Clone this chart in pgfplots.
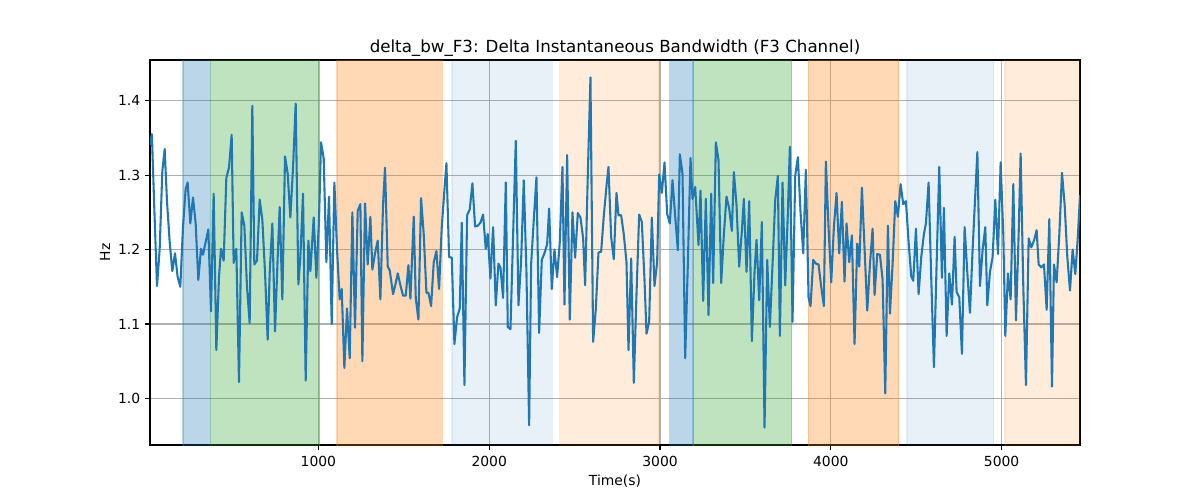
\documentclass[border=0pt]{standalone}
\usepackage{fontspec}
\setmainfont{DejaVu Sans}
\usepackage{pgfplots}
\pgfplotsset{compat=1.18}
\definecolor{tabblue}{HTML}{1F77B4}
\definecolor{taborange}{HTML}{FF7F0E}
\definecolor{tabgreen}{HTML}{2CA02C}
\definecolor{gridgray}{HTML}{B0B0B0}
\begin{document}
\begin{tikzpicture}
\path[use as bounding box] (0,0) rectangle (864pt,360pt);
\begin{axis}[
  at={(108pt,39.6pt)}, anchor=south west,
  scale only axis, width=669.6pt, height=277.2pt,
  xmin=14, xmax=5459, ymin=0.9375, ymax=1.4545,
  xtick={1000,2000,3000,4000,5000},
  xticklabels={1000,2000,3000,4000,5000},
  ytick={1.0,1.1,1.2,1.3,1.4},
  yticklabels={1.0,1.1,1.2,1.3,1.4},
  tick pos=left, tick align=outside,
  major tick length=3.5pt,
  tick style={black, line width=0.8pt},
  axis line style={line width=0.8pt},
  grid=major,
  major grid style={gridgray, line width=0.8pt},
  ticklabel style={font=\fontsize{10}{12}\selectfont},
  xticklabel style={yshift=-1pt},
  title={delta\_bw\_F3: Delta Instantaneous Bandwidth (F3 Channel)},
  title style={at={(axis description cs:0.5,1)}, anchor=base, yshift=-0.5pt, font=\fontsize{12}{14}\selectfont},
  xlabel={Time(s)},
  xlabel style={at={(axis description cs:0.5,-0.0934)}, anchor=center, font=\fontsize{10}{12}\selectfont},
  ylabel={Hz},
  ylabel style={at={(axis description cs:-0.0484,0.5)}, anchor=center, font=\fontsize{10}{12}\selectfont},
]
% shaded regions
\addplot[forget plot, fill=tabblue, fill opacity=0.3, draw=tabblue, draw opacity=0.3, line width=1pt] coordinates {(207,0.9)(207,1.5)(367,1.5)(367,0.9)} -- cycle;
\addplot[forget plot, fill=tabgreen, fill opacity=0.3, draw=tabgreen, draw opacity=0.3, line width=1pt] coordinates {(369,0.9)(369,1.5)(1008,1.5)(1008,0.9)} -- cycle;
\addplot[forget plot, fill=taborange, fill opacity=0.3, draw=taborange, draw opacity=0.3, line width=1pt] coordinates {(1109,0.9)(1109,1.5)(1726,1.5)(1726,0.9)} -- cycle;
\addplot[forget plot, fill=tabblue, fill opacity=0.1, draw=tabblue, draw opacity=0.1, line width=1pt] coordinates {(1781,0.9)(1781,1.5)(2370,1.5)(2370,0.9)} -- cycle;
\addplot[forget plot, fill=taborange, fill opacity=0.15, draw=taborange, draw opacity=0.15, line width=1pt] coordinates {(2413,0.9)(2413,1.5)(2995,1.5)(2995,0.9)} -- cycle;
\addplot[forget plot, fill=tabblue, fill opacity=0.3, draw=tabblue, draw opacity=0.3, line width=1pt] coordinates {(3057,0.9)(3057,1.5)(3194,1.5)(3194,0.9)} -- cycle;
\addplot[forget plot, fill=tabgreen, fill opacity=0.3, draw=tabgreen, draw opacity=0.3, line width=1pt] coordinates {(3196,0.9)(3196,1.5)(3770,1.5)(3770,0.9)} -- cycle;
\addplot[forget plot, fill=taborange, fill opacity=0.3, draw=taborange, draw opacity=0.3, line width=1pt] coordinates {(3868,0.9)(3868,1.5)(4397,1.5)(4397,0.9)} -- cycle;
\addplot[forget plot, fill=tabblue, fill opacity=0.1, draw=tabblue, draw opacity=0.1, line width=1pt] coordinates {(4446,0.9)(4446,1.5)(4953,1.5)(4953,0.9)} -- cycle;
\addplot[forget plot, fill=taborange, fill opacity=0.15, draw=taborange, draw opacity=0.15, line width=1pt] coordinates {(5020,0.9)(5020,1.5)(5470,1.5)(5470,0.9)} -- cycle;
% series
\addplot[tabblue, line width=1.5pt, mark=none, line join=round] table[row sep=\\] {
x y\\
14 1.340\\ 25 1.355\\ 40 1.250\\ 55 1.151\\ 70.5 1.200\\ 86.1 1.305\\ 100 1.335\\ 113.4 1.265\\
129.0 1.211\\ 144.6 1.171\\ 160.3 1.195\\ 175.9 1.163\\ 191.5 1.150\\ 207.1 1.230\\ 222.7 1.281\\
234.4 1.290\\ 250.1 1.235\\ 265.7 1.270\\ 281.3 1.235\\ 296.9 1.159\\ 312.5 1.201\\ 324.2 1.193\\
339.8 1.210\\ 355.5 1.227\\ 371.1 1.117\\ 386.7 1.275\\ 402.3 1.065\\ 417.9 1.163\\ 429.6 1.201\\
445.3 1.185\\ 460.9 1.296\\ 476.5 1.310\\ 492.1 1.354\\ 503.8 1.182\\ 519.4 1.201\\ 535.0 1.022\\
550.7 1.250\\ 566.3 1.232\\ 581.9 1.150\\ 597.5 1.101\\ 613.1 1.393\\ 624.8 1.180\\ 640.5 1.185\\
656.1 1.267\\ 671.7 1.240\\ 687.3 1.170\\ 703.0 1.079\\ 715 1.170\\
730.3 1.235\\ 746.0 1.090\\ 761.6 1.190\\ 773.3 1.257\\ 788.9 1.133\\ 804.5 1.325\\ 820.1 1.302\\
835.7 1.243\\ 851.4 1.310\\ 867.0 1.396\\ 882.6 1.153\\ 894.3 1.190\\ 909.9 1.275\\ 925.5 1.024\\
941.2 1.212\\ 952.9 1.171\\ 972.4 1.243\\ 988.0 1.162\\ 1003.6 1.240\\ 1015.3 1.344\\ 1031.0 1.322\\
1046.6 1.183\\ 1062.2 1.271\\ 1077.8 1.100\\ 1093.4 1.290\\ 1109.0 1.200\\ 1124.6 1.133\\ 1136.4 1.147\\
1152.0 1.041\\ 1167.6 1.121\\ 1183.2 1.054\\ 1198.8 1.250\\ 1214.4 1.095\\ 1230.1 1.252\\ 1245.7 1.261\\
1257.4 1.050\\ 1273.0 1.262\\ 1288.6 1.180\\ 1304.2 1.244\\ 1315.9 1.173\\ 1331.6 1.195\\ 1347.2 1.212\\
1362.8 1.133\\ 1378.4 1.260\\ 1390.1 1.310\\
1405.9 1.177\\ 1417.6 1.172\\ 1437.2 1.140\\ 1452.8 1.155\\ 1464.5 1.168\\ 1480.1 1.152\\ 1495.7 1.138\\
1511.3 1.138\\ 1527.0 1.179\\ 1538.7 1.134\\ 1558.2 1.244\\ 1569.9 1.135\\ 1585.5 1.106\\ 1601.1 1.269\\
1616.7 1.220\\ 1632.4 1.142\\ 1644.1 1.142\\ 1659.7 1.124\\ 1675.3 1.183\\ 1690.9 1.198\\ 1706.5 1.147\\
1722.1 1.230\\ 1737.8 1.280\\ 1749.5 1.316\\ 1765.1 1.190\\ 1780.7 1.189\\ 1796.3 1.073\\ 1811.9 1.109\\
1827.6 1.121\\ 1839.3 1.236\\ 1854.9 1.018\\ 1870.5 1.246\\ 1886.1 1.254\\ 1901.7 1.289\\ 1917.3 1.231\\
1933.0 1.232\\ 1948.6 1.236\\ 1964.2 1.247\\ 1979.8 1.201\\ 1991.5 1.221\\ 2007.1 1.161\\ 2022.8 1.230\\
2038.4 1.125\\ 2054.0 1.181\\ 2065.7 1.176\\ 2081.3 1.135\\
2097.0 1.290\\ 2108.7 1.096\\ 2124.4 1.093\\ 2140.0 1.220\\ 2155.6 1.346\\ 2171.2 1.125\\ 2186.8 1.185\\
2202.4 1.293\\ 2218.0 1.170\\ 2233.7 0.964\\ 2245.4 1.180\\ 2261.0 1.240\\ 2276.6 1.297\\ 2292.2 1.088\\
2307.8 1.186\\ 2323.5 1.195\\ 2339.1 1.207\\ 2350.8 1.255\\ 2366.4 1.147\\ 2382.0 1.200\\ 2397.6 1.163\\
2413.2 1.210\\ 2428.9 1.311\\ 2440.6 1.126\\ 2456.2 1.327\\ 2471.8 1.106\\ 2487.4 1.250\\ 2503.0 1.189\\
2518.7 1.249\\ 2534.3 1.243\\ 2549.9 1.215\\ 2561.6 1.152\\ 2577.2 1.300\\ 2592.8 1.431\\ 2608.4 1.076\\
2624.1 1.120\\ 2639.7 1.196\\ 2655.3 1.197\\ 2670.9 1.245\\ 2686.5 1.285\\ 2698.2 1.311\\ 2713.9 1.217\\
2729.5 1.187\\ 2745.1 1.276\\ 2756.8 1.246\\ 2772.4 1.246\\
2788.1 1.220\\ 2803.7 1.183\\ 2815.5 1.065\\ 2831.1 1.188\\ 2846.7 1.021\\ 2862.3 1.140\\ 2877.9 1.247\\
2893.5 1.237\\ 2909.1 1.160\\ 2920.9 1.087\\ 2936.5 1.103\\ 2952.1 1.243\\ 2967.7 1.151\\ 2983.3 1.183\\
2995.0 1.301\\ 3010.7 1.276\\ 3026.3 1.317\\ 3041.9 1.248\\ 3057.5 1.235\\ 3073.1 1.293\\ 3088.7 1.245\\
3104.4 1.199\\ 3116.1 1.328\\ 3131.7 1.302\\ 3147.3 1.054\\ 3162.9 1.180\\ 3178.5 1.323\\ 3190.2 1.268\\
3205.9 1.284\\ 3225.4 1.206\\ 3237.1 1.279\\ 3252.7 1.131\\ 3268.3 1.268\\ 3284.0 1.112\\ 3299.6 1.275\\
3311.3 1.155\\ 3326.9 1.344\\ 3342.5 1.320\\ 3358.1 1.155\\ 3373.7 1.220\\ 3389.3 1.271\\ 3405.0 1.255\\
3420.6 1.225\\ 3432.3 1.304\\ 3447.9 1.260\\ 3463.5 1.177\\
3479.2 1.225\\ 3490.9 1.268\\ 3506.6 1.170\\ 3522.2 1.265\\ 3537.8 1.077\\ 3553.4 1.170\\ 3565.1 1.213\\
3580.7 1.132\\ 3596.3 1.237\\ 3612.0 0.961\\ 3627.6 1.186\\ 3643.2 1.096\\ 3658.8 1.180\\ 3674.4 1.266\\
3690.0 1.299\\ 3701.8 1.084\\ 3717.4 1.290\\ 3733.0 1.152\\ 3748.6 1.250\\ 3760.3 1.338\\ 3775.9 1.103\\
3791.5 1.299\\ 3807.2 1.324\\ 3822.8 1.250\\ 3838.4 1.195\\ 3854.0 1.307\\ 3869.6 1.136\\ 3881.3 1.124\\
3897.0 1.186\\ 3912.6 1.181\\ 3928.2 1.180\\ 3943.8 1.150\\ 3959.4 1.124\\ 3971.1 1.318\\ 3986.7 1.230\\
4002.4 1.156\\ 4018.0 1.230\\ 4033.6 1.276\\ 4049.2 1.195\\ 4064.8 1.264\\ 4080.4 1.157\\ 4092.2 1.235\\
4107.8 1.183\\ 4123.4 1.219\\ 4139.0 1.073\\ 4154.6 1.208\\
4166.5 1.177\\ 4182.1 1.283\\ 4197.8 1.200\\ 4213.4 1.118\\ 4229.0 1.180\\ 4244.6 1.228\\ 4256.3 1.139\\
4271.9 1.194\\ 4287.5 1.193\\ 4303.2 1.160\\ 4318.8 1.007\\ 4334.4 1.232\\ 4346.1 1.114\\ 4361.7 1.180\\
4377.3 1.265\\ 4393.0 1.244\\ 4408.6 1.288\\ 4424.2 1.261\\ 4439.8 1.265\\ 4455.4 1.210\\ 4471.0 1.164\\
4482.7 1.158\\ 4498.4 1.228\\ 4514.0 1.140\\ 4529.6 1.190\\ 4545.2 1.221\\ 4556.9 1.235\\ 4572.5 1.290\\
4588.2 1.160\\ 4603.8 1.042\\ 4619.4 1.180\\ 4635.0 1.311\\ 4650.6 1.162\\ 4662.3 1.256\\ 4678.0 1.084\\
4693.6 1.168\\ 4709.2 1.126\\ 4724.8 1.217\\ 4736.5 1.143\\ 4752.1 1.136\\ 4767.7 1.060\\ 4783.4 1.230\\
4799.0 1.170\\ 4814.6 1.115\\ 4830.2 1.200\\ 4845.0 1.270\\ 4858.0 1.331\\
4873.3 1.151\\ 4888.9 1.200\\ 4904.5 1.230\\ 4916.2 1.125\\ 4931.8 1.170\\ 4947.4 1.190\\ 4963.1 1.267\\
4978.7 1.194\\ 4994.3 1.317\\ 5009.9 1.220\\ 5021.6 1.084\\ 5037.2 1.168\\ 5052.8 1.133\\ 5068.5 1.288\\
5084.1 1.105\\ 5099.7 1.220\\ 5111.4 1.329\\ 5127.0 1.150\\ 5142.6 1.018\\ 5158.3 1.215\\ 5173.9 1.203\\
5189.5 1.212\\ 5205.1 1.226\\ 5216.8 1.180\\ 5232.4 1.176\\ 5248.0 1.180\\ 5263.7 1.119\\ 5279.3 1.241\\
5294.9 1.016\\ 5306.6 1.180\\ 5322.2 1.156\\ 5337.8 1.220\\ 5353.5 1.303\\ 5369.1 1.260\\ 5384.7 1.190\\
5400.3 1.145\\ 5415.9 1.200\\ 5431.5 1.167\\ 5447.2 1.220\\ 5459 1.273\\
};
\end{axis}
\end{tikzpicture}
\end{document}
